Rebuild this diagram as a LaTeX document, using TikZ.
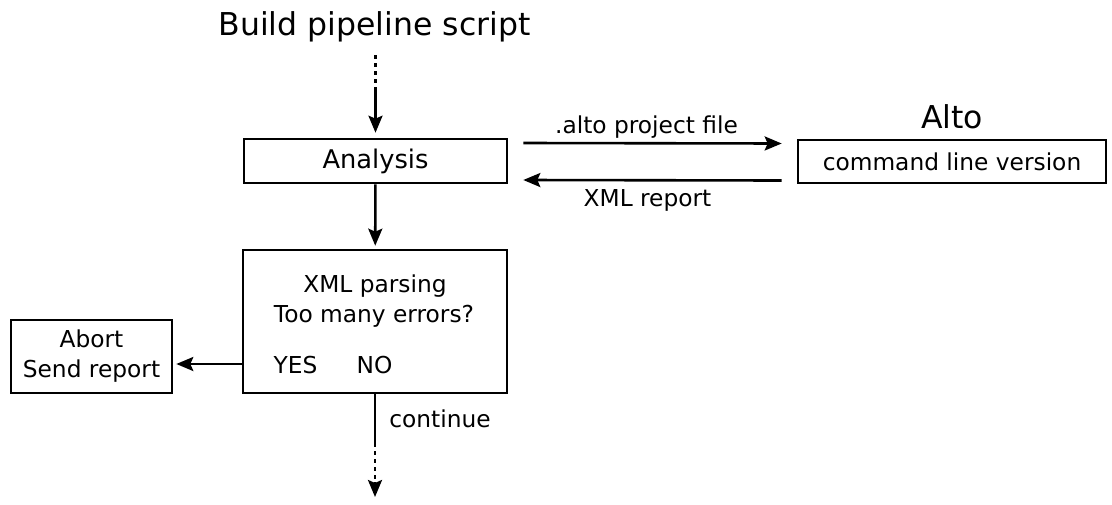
\documentclass[tikz,border=0pt]{standalone}
\usepackage{fontspec}
\setmainfont{DejaVu Sans}
\usepackage {tikz}
\usetikzlibrary {positioning}
\usetikzlibrary{arrows.meta}

\begin{document}
\begin{tikzpicture}[x=1pt,y=-1pt,line width=2.6pt,
	txt/.style={font=\fontsize{23.3}{30}\selectfont,inner sep=0pt},
	big/.style={font=\fontsize{31.5}{36}\selectfont,inner sep=0pt},
	box/.style={txt,draw,align=center},
	arr/.style={-{Stealth[length=17pt,width=14pt,inset=3pt]}},
	dots/.style={dash pattern=on 4pt off 4pt}]
	\useasboundingbox (0,0) rectangle (1112,504);
	\node[big,anchor=base] (title) at (374.5,35) {Build pipeline script};
	\node[box,font=\fontsize{25.7}{30}\selectfont,minimum width=263,minimum height=44] (ana) at (375.5,161) {Analysis};
	\node[box,minimum width=308,minimum height=43] (alto) at (952,161.5) {command line version};
	\node[big,anchor=base] (altoname) at (952,128) {Alto};
	\node[box,minimum width=264,minimum height=143] (xml) at (375,321.5) {};
	\node[txt,anchor=base] (parse) at (375,292) {XML parsing};
	\node[txt,anchor=base] (many) at (374,322) {Too many errors?};
	\node[txt,anchor=base] (yes) at (295.5,373) {YES};
	\node[txt,anchor=base] (no) at (374.5,373) {NO};
	\node[box,minimum width=161,minimum height=73] (abort) at (91.5,356.5) {Abort\\Send report};
	\path (375.5,55) coordinate (src)
	++ (0,35) coordinate (brk0)
	(375,443) coordinate (brk1)
	++ (0,39) coordinate (brk2)
	++ (0,15) coordinate (sink);
	\draw[dots] (src) -- (brk0);
	\draw[arr,shorten >=5pt] (brk0) -- (ana);
	\draw[arr,shorten >=3pt] (ana) -- (xml);
	\draw[arr] ([xshift=15pt,yshift=18pt]ana.east) -- node[txt,anchor=base,yshift=10pt,xshift=-6pt] (sent) {.alto project file} ([xshift=-15pt,yshift=18pt]alto.west);
	\draw[arr] ([xshift=-15pt,yshift=-19pt]alto.west) -- node[txt,anchor=base,yshift=-26pt,xshift=-5pt] (back) {XML report} ([xshift=15pt,yshift=-19pt]ana.east);
	\draw[arr,shorten >=3pt] ([yshift=-42.5pt]xml.west) -- ([yshift=-7.5pt]abort.east);
	\draw (xml) -- (brk1);
	\node[txt,anchor=base west] (cont) at (388,427) {continue};
	\draw[dots] (brk1) -- (brk2);
	\draw[arr] (brk2) -- (sink);
\end{tikzpicture}
\end{document}
